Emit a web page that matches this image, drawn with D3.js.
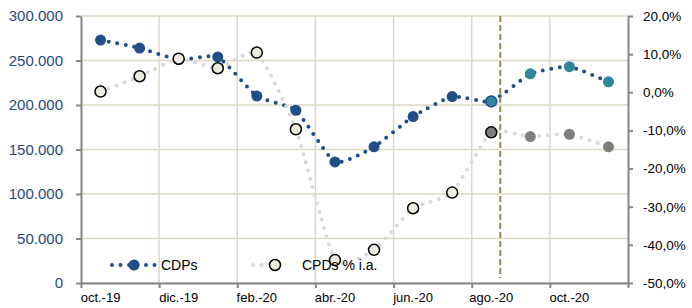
<!DOCTYPE html>
<html lang="es">
<head>
<meta charset="UTF-8">
<script src="https://cdn.jsdelivr.net/npm/d3@7"></script>
<style>
    body { margin: 0; background: #fff; font-family: "Liberation Sans", Arial, sans-serif; }
    .grid line { stroke: #ddd9c3; stroke-width: 1.5; }
    .axis path, .axis line { stroke: #868686; stroke-width: 2; }
</style>
</head>
<body>
<script>
    // meses (oct.-19 .. nov.-20)
    var months = ["oct.-19","nov.-19","dic.-19","ene.-20","feb.-20","mar.-20","abr.-20",
                  "may.-20","jun.-20","jul.-20","ago.-20","sep.-20","oct.-20","nov.-20"];
    // CDPs (eje izq.)
    var cdps = [273000, 264000, 251000, 254000, 210000, 194000, 136000,
                153000, 187000, 209500, 204000, 235000, 243000, 226000];
    // CPDs % i.a. (eje dcho.)
    var cpdsPct = [0.002, 0.042, 0.088, 0.063, 0.104, -0.097, -0.440,
                   -0.413, -0.304, -0.263, -0.105, -0.116, -0.110, -0.143];
    var leftTicks = [0, 50000, 100000, 150000, 200000, 250000, 300000];
    var rightTicks = [-0.5, -0.4, -0.3, -0.2, -0.1, 0, 0.1, 0.2];
    var firstEstimate = "ago.-20";   // desde aquí, puntos estimados
    var cutPosition = 10.73;         // línea discontinua (en meses desde oct.-19)

    var W = 692, H = 308;
    var xLeft = 81, xRight = 628, yTop = 16, yBottom = 283;

    var loc = d3.formatLocale({decimal: ",", thousands: ".", grouping: [3], currency: ["", "€"], minus: "-"});
    var fmtNum = loc.format(",.0f");
    var fmtPct = loc.format(".1%");

    var svg = d3.select("body").append("svg")
        .attr("width", W).attr("height", H);

    var x = d3.scaleBand().domain(months).range([xLeft, xRight]).padding(0);
    var xi = d3.scaleLinear().domain([0, months.length]).range([xLeft, xRight]);
    var y = d3.scaleLinear().domain([0, 300000]).range([yBottom, yTop]);
    var y2 = d3.scaleLinear().domain([-0.5, 0.2]).range([yBottom, yTop]);
    var cx = d => x(d) + x.bandwidth() / 2;
    var cut = months.indexOf(firstEstimate);

    // rejilla
    var grid = svg.append("g").attr("class", "grid");
    grid.selectAll(".h").data(leftTicks).enter().append("line")
        .attr("x1", xLeft).attr("x2", xRight)
        .attr("y1", d => y(d)).attr("y2", d => y(d));
    grid.selectAll(".v").data(d3.range(2, months.length, 2)).enter().append("line")
        .attr("x1", d => xi(d)).attr("x2", d => xi(d))
        .attr("y1", yTop).attr("y2", yBottom);

    // ejes
    var axL = svg.append("g").attr("class", "axis")
        .attr("transform", "translate(" + xLeft + ",0)")
        .call(d3.axisLeft(y).tickValues(leftTicks).tickSize(5).tickSizeOuter(0).tickPadding(13).tickFormat(fmtNum));
    axL.selectAll("text").attr("fill", "#1f497d").style("font-size", "15px")
        .style("font-family", "Liberation Sans, Arial, sans-serif");

    var axR = svg.append("g").attr("class", "axis")
        .attr("transform", "translate(" + xRight + ",0)")
        .call(d3.axisRight(y2).tickValues(rightTicks).tickSize(5).tickSizeOuter(0).tickPadding(10).tickFormat(fmtPct));
    axR.selectAll("text").attr("fill", "#000").style("font-size", "13.5px")
        .style("font-family", "Liberation Sans, Arial, sans-serif");

    var axB = svg.append("g").attr("class", "axis")
        .attr("transform", "translate(0," + yBottom + ")")
        .call(d3.axisBottom(xi).tickValues(d3.range(0, months.length + 1, 2)).tickSize(5).tickSizeOuter(0).tickFormat(""));
    var axBl = svg.append("g")
        .attr("transform", "translate(0," + yBottom + ")")
        .call(d3.axisBottom(x).tickValues(months.filter((d, i) => i % 2 === 0)).tickSize(0).tickPadding(10));
    axBl.select(".domain").remove();
    axBl.selectAll("text").attr("fill", "#000").style("font-size", "13px")
        .style("font-family", "Liberation Sans, Arial, sans-serif");

    var curve = d3.curveCardinal.tension(0.5);

    // CDPs
    var line1 = d3.line().x((d, i) => cx(months[i])).y(d => y(d)).curve(curve);
    svg.append("path").datum(cdps).attr("d", line1)
        .attr("fill", "none").attr("stroke", "#1f4e89").attr("stroke-width", 4)
        .attr("stroke-linecap", "round").attr("stroke-dasharray", "0,8.5");
    svg.selectAll(".m1").data(cdps).enter().append("circle")
        .attr("cx", (d, i) => cx(months[i])).attr("cy", d => y(d)).attr("r", 5.5)
        .attr("fill", (d, i) => i < cut ? "#1f4e89" : "#31859c")
        .attr("stroke", (d, i) => i === cut ? "#1f4e89" : "none").attr("stroke-width", 1.5);

    // CPDs % i.a.
    var line2 = d3.line().x((d, i) => cx(months[i])).y(d => y2(d)).curve(curve);
    svg.append("path").datum(cpdsPct).attr("d", line2)
        .attr("fill", "none").attr("stroke", "#d9d9d9").attr("stroke-width", 4)
        .attr("stroke-linecap", "round").attr("stroke-dasharray", "0,8.5");
    svg.selectAll(".m2").data(cpdsPct).enter().append("circle")
        .attr("cx", (d, i) => cx(months[i])).attr("cy", d => y2(d)).attr("r", 5.5)
        .attr("fill", (d, i) => i < cut ? "#eeece1" : "#7f7f7f")
        .attr("stroke", (d, i) => i <= cut ? "#000" : "none").attr("stroke-width", 1.5);

    // línea discontinua
    svg.append("line")
        .attr("x1", xi(cutPosition)).attr("x2", xi(cutPosition))
        .attr("y1", yTop).attr("y2", yBottom - 5)
        .attr("stroke", "#948a54").attr("stroke-width", 2).attr("stroke-dasharray", "6,3");

    // leyenda
    var legend = [
        {name: "CDPs", x0: 112, x1: 157, mx: 134, tx: 161, color: "#1f4e89", fill: "#1f4e89", stroke: "none"},
        {name: "CPDs % i.a.", x0: 253, x1: 287, mx: 275, tx: 302, color: "#d9d9d9", fill: "#eeece1", stroke: "#000"}
    ];
    var lg = svg.selectAll(".lg").data(legend).enter().append("g");
    lg.append("line").attr("x1", d => d.x0).attr("x2", d => d.x1).attr("y1", 265).attr("y2", 265)
        .attr("stroke", d => d.color).attr("stroke-width", 4)
        .attr("stroke-linecap", "round").attr("stroke-dasharray", "0,8.5");
    lg.append("circle").attr("cx", d => d.mx).attr("cy", 265).attr("r", 5.5)
        .attr("fill", d => d.fill).attr("stroke", d => d.stroke).attr("stroke-width", 1.5);
    lg.append("text").attr("x", d => d.tx).attr("y", 270).text(d => d.name)
        .style("font-size", "14px").attr("fill", "#000");
</script>
</body>
</html>
